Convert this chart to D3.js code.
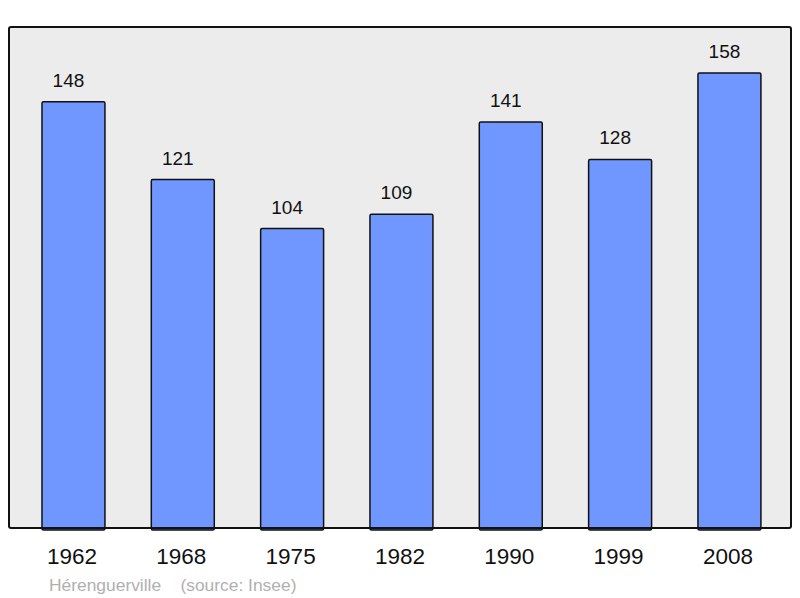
<!DOCTYPE html>
<html>
<head>
<meta charset="utf-8">
<script src="https://cdn.jsdelivr.net/npm/d3@7"></script>
<style>
  body { margin: 0; background: #fff; }
  svg { display: block; font-family: "Liberation Sans", Arial, sans-serif; }
</style>
</head>
<body>
<svg id="canvas" width="800" height="598"></svg>
<script>
// population figures
let years = ['1962', '1968', '1975', '1982', '1990', '1999', '2008']
let population = [148, 121, 104, 109, 141, 128, 158]
let townName = 'Hérenguerville'
let sourceText = '(source: Insee)'

let canvas = d3.select('#canvas')

let frame = {left: 9, top: 27, right: 791, bottom: 528}

// frame background
canvas.append('rect')
    .attr('x', frame.left)
    .attr('y', frame.top)
    .attr('width', frame.right - frame.left)
    .attr('height', frame.bottom - frame.top)
    .attr('rx', 2)
    .attr('fill', '#ececec')
    .attr('stroke', 'none')

let xScale = d3.scaleBand()
    .domain(years)
    .range([18.8, 784.1])
    .paddingInner(0.424)
    .paddingOuter(0.212)

let yScale = d3.scaleLinear()
    .domain([0, 174])
    .range([frame.bottom, frame.top])

let rows = years.map((y, i) => ({year: y, value: population[i]}))

let block = canvas.selectAll('g.bar')
    .data(rows)
    .enter()
    .append('g')
    .attr('class', 'bar')

block.append('rect')
    .attr('x', (d) => xScale(d.year))
    .attr('y', (d) => yScale(d.value))
    .attr('width', xScale.bandwidth())
    .attr('height', (d) => yScale(0) - yScale(d.value) + 2)
    .attr('rx', 1.5)
    .attr('fill', '#7096ff')
    .attr('stroke', '#111')
    .attr('stroke-width', 1.5)

// value labels sit a little left of the bar centre in the original
block.append('text')
    .text((d) => d.value)
    .attr('x', (d) => xScale(d.year) + xScale.bandwidth() / 2 - 5)
    .attr('y', (d) => yScale(d.value) - 15)
    .attr('text-anchor', 'middle')
    .attr('font-size', 19)
    .attr('fill', '#111')

// frame border on top so bar bottoms sit under it
canvas.append('rect')
    .attr('x', frame.left)
    .attr('y', frame.top)
    .attr('width', frame.right - frame.left)
    .attr('height', frame.bottom - frame.top)
    .attr('rx', 2)
    .attr('fill', 'none')
    .attr('stroke', '#111')
    .attr('stroke-width', 2)

// year labels via axis
let xAxis = d3.axisBottom(xScale).tickSize(0).tickPadding(0)
let axisG = canvas.append('g')
    .attr('transform', 'translate(-1.5,' + 548 + ')')
    .call(xAxis)
axisG.select('.domain').remove()
axisG.selectAll('text')
    .attr('font-size', 22.5)
    .attr('font-family', '"Liberation Sans", Arial, sans-serif')
    .attr('fill', '#111')

canvas.append('text')
    .attr('x', 49)
    .attr('y', 591)
    .attr('font-size', 17.4)
    .attr('fill', '#b0b0b0')
    .attr('xml:space', 'preserve')
    .text(townName + '    ' + sourceText)
</script>
</body>
</html>
